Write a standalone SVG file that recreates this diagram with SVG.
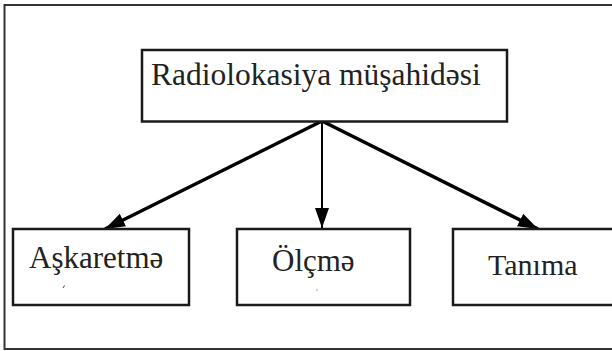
<svg xmlns="http://www.w3.org/2000/svg" width="612" height="351" viewBox="0 0 612 351">
  <style>
    .frame { fill: none; stroke: #333; stroke-width: 2; }
    .box { fill: #fff; stroke: #1a1a1a; stroke-width: 2.5; }
    .label { font-family: "Liberation Serif", "Times New Roman", serif; font-size: 31px; fill: #222; }
    .conn { fill: none; stroke: #000; }
  </style>
  <defs>
    <marker id="arrow" markerUnits="userSpaceOnUse" markerWidth="22" markerHeight="16" refX="20" refY="7" orient="auto">
      <path d="M0,0 L20,7 L0,14 Z" fill="#000"/>
    </marker>
  </defs>
  <rect width="612" height="351" fill="#fff"/>
  <rect class="frame" x="4.5" y="5" width="620" height="344"/>

  <g id="connectors">
    <line class="conn" x1="322" y1="121" x2="105" y2="229" stroke-width="3.5" marker-end="url(#arrow)"/>
    <line class="conn" x1="322" y1="121" x2="322" y2="228" stroke-width="2" marker-end="url(#arrow)"/>
    <line class="conn" x1="322" y1="121" x2="538" y2="229" stroke-width="3.5" marker-end="url(#arrow)"/>
  </g>

  <g id="node-top">
    <rect class="box" x="142" y="50" width="365" height="71.5"/>
    <text class="label" x="151" y="85" style="font-size:31.5px">Radiolokasiya müşahidəsi</text>
  </g>

  <g id="node-askaretme">
    <rect class="box" x="13" y="229" width="176" height="76"/>
    <text class="label" x="29" y="268">Aşkaretmə</text>
    <path d="M63,288 l1.5,-2.5" stroke="#444" stroke-width="1"/>
  </g>

  <g id="node-olcme">
    <rect class="box" x="237" y="229" width="173" height="76"/>
    <text class="label" x="272" y="271">Ölçmə</text>
    <path d="M316,290 h2" stroke="#aaa" stroke-width="1"/>
  </g>

  <g id="node-tanima">
    <rect class="box" x="453" y="229" width="170" height="76"/>
    <text class="label" x="488" y="275" style="font-size:30px">Tanıma</text>
  </g>
</svg>
